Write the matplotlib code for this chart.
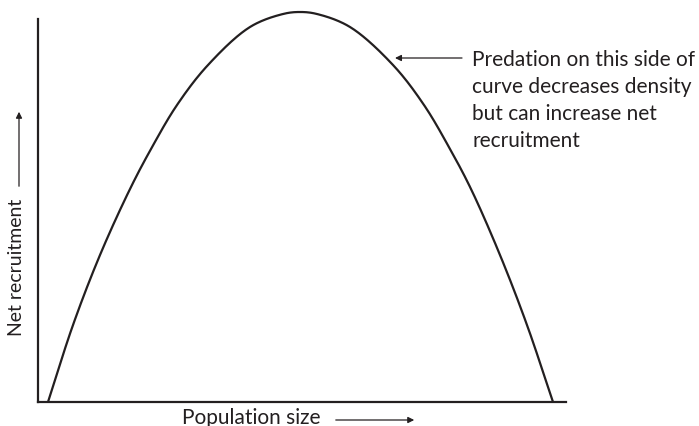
import numpy as np
import matplotlib
matplotlib.use("Agg")
import matplotlib.pyplot as plt
from matplotlib.patches import FancyArrowPatch

# Curve (population size vs net recruitment, arbitrary units)
population = [10, 35, 62, 92, 113, 139, 170, 212, 245, 262, 279, 312, 355, 386, 412, 433, 462, 489, 515]
recruitment = [0, 77, 147, 213, 253, 297, 337, 375, 388, 390, 388, 375, 337, 297, 253, 213, 147, 77, 0]

x_label = "Population size"
y_label = "Net recruitment"
note = "Predation on this side of\ncurve decreases density\nbut can increase net\nrecruitment"

W, H = 699, 427
fig = plt.figure(figsize=(W / 100, H / 100), dpi=100)
ax = fig.add_axes([38 / W, (H - 403) / H, (566 - 38) / W, 390 / H])
ax.set_xlim(0, 528)
ax.set_ylim(0, 390)


def smooth(xs, ys, n=30, alpha=0.5):
    """Centripetal Catmull-Rom rendering through the read points."""
    P = np.column_stack([xs, ys]).astype(float)
    P = np.vstack([P[0] * 2 - P[1], P, P[-1] * 2 - P[-2]])
    out = []
    for i in range(1, len(P) - 2):
        p0, p1, p2, p3 = P[i - 1], P[i], P[i + 1], P[i + 2]
        t0 = 0.0
        t1 = t0 + np.linalg.norm(p1 - p0) ** alpha
        t2 = t1 + np.linalg.norm(p2 - p1) ** alpha
        t3 = t2 + np.linalg.norm(p3 - p2) ** alpha
        t = np.linspace(t1, t2, n, endpoint=False)[:, None]
        a1 = (t1 - t) / (t1 - t0) * p0 + (t - t0) / (t1 - t0) * p1
        a2 = (t2 - t) / (t2 - t1) * p1 + (t - t1) / (t2 - t1) * p2
        a3 = (t3 - t) / (t3 - t2) * p2 + (t - t2) / (t3 - t2) * p3
        b1 = (t2 - t) / (t2 - t0) * a1 + (t - t0) / (t2 - t0) * a2
        b2 = (t3 - t) / (t3 - t1) * a2 + (t - t1) / (t3 - t1) * a3
        c = (t2 - t) / (t2 - t1) * b1 + (t - t1) / (t2 - t1) * b2
        out.append(c)
    out.append(P[-2][None, :])
    out = np.vstack(out)
    return out[:, 0], out[:, 1]


col = "#231f20"
sx, sy = smooth(population, recruitment)
ax.plot(sx, sy, color=col, lw=1.6, clip_on=False, solid_capstyle="butt")

for s in ["top", "right"]:
    ax.spines[s].set_visible(False)
for s in ["left", "bottom"]:
    ax.spines[s].set_linewidth(1.6)
    ax.spines[s].set_color(col)
ax.spines["left"].set_bounds(0, 383)
ax.set_xticks([])
ax.set_yticks([])

font = "Lato"
fs = 15

# annotation arrow
ax.annotate("", xy=(357, 344), xytext=(424, 344), xycoords="data",
            arrowprops=dict(arrowstyle="-|>", color=col, lw=0.9, mutation_scale=9,
                            shrinkA=0, shrinkB=0))
fig.text(472, H - 50, note, family=font, fontsize=fs, color=col, va="top", ha="left",
         linespacing=1.43, transform=None)

# x label with arrow
fig.text(182, H - 418, x_label, family=font, fontsize=fs, color=col, va="center", ha="left",
         transform=None)
fig.add_artist(FancyArrowPatch((333, H - 421), (417, H - 421),
               arrowstyle="-|>", color=col, lw=0.9, mutation_scale=9, transform=None))

# y label with arrow
fig.text(17, H - 267, y_label, family=font, fontsize=14, color=col, va="center", ha="center",
         rotation=90, transform=None)
fig.add_artist(FancyArrowPatch((19, H - 190), (19, H - 110),
               arrowstyle="-|>", color=col, lw=0.9, mutation_scale=9, transform=None))

fig.savefig("out.png", dpi=100)
